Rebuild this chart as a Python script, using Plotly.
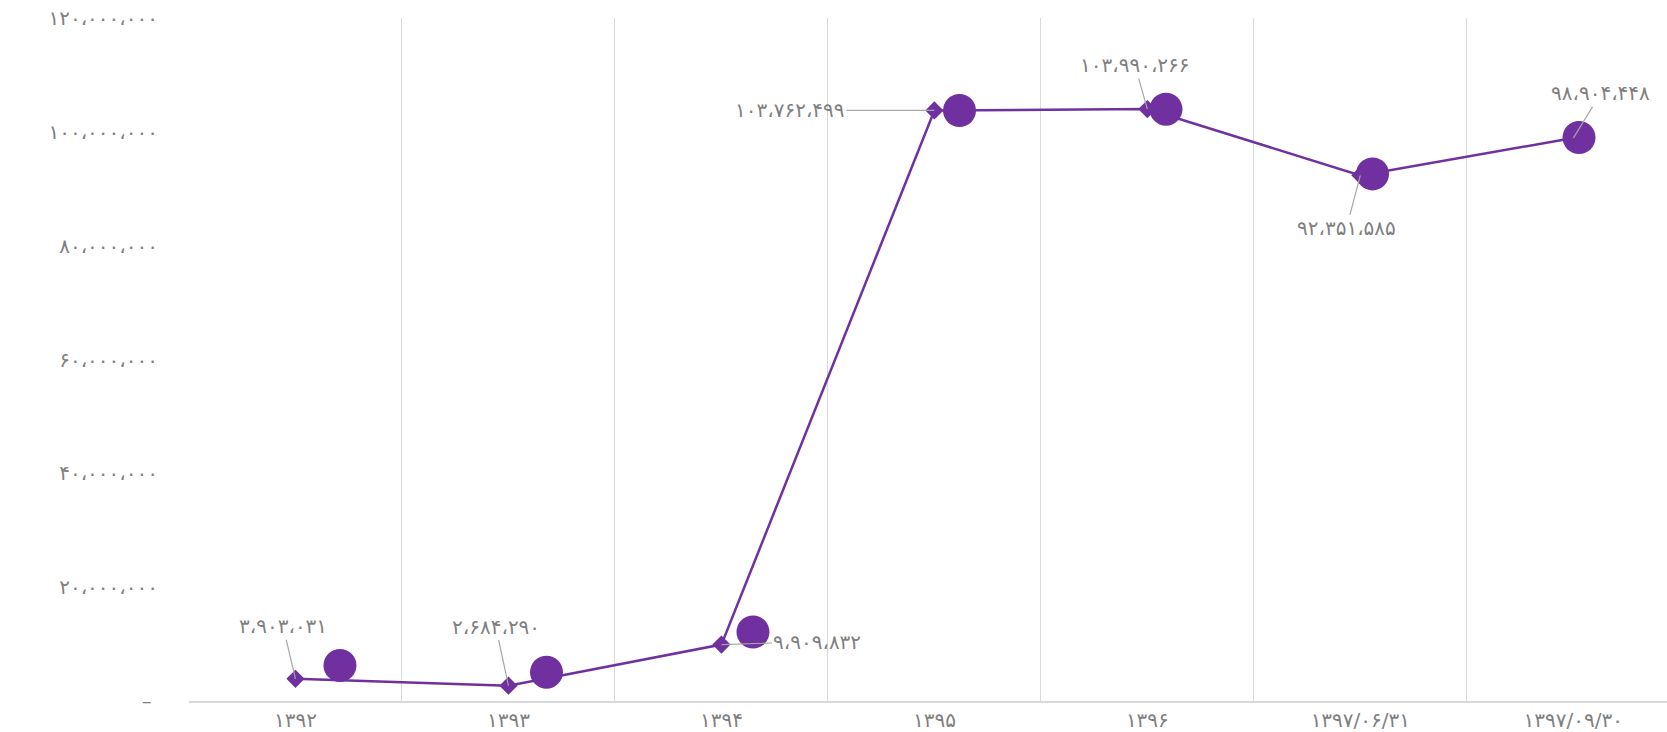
import plotly.graph_objects as go

categories = ["۱۳۹۲", "۱۳۹۳", "۱۳۹۴", "۱۳۹۵", "۱۳۹۶", "۱۳۹۷/۰۶/۳۱", "۱۳۹۷/۰۹/۳۰"]
values = [3903031, 2684290, 9909832, 103762499, 103990266, 92351585, 98904448]
y_ticks = [0, 20000000, 40000000, 60000000, 80000000, 100000000, 120000000]
# label offsets (pixels) relative to each point
label_dx = [-12.5, -12.7, 96, -144.5, -12.5, -14, 27.5]
label_dy = [-52.6, -59, -3, 0, -44, 53, -44.7]

FA = str.maketrans("0123456789", "۰۱۲۳۴۵۶۷۸۹")


def fa(n):
    if n == 0:
        return "–\u00a0"
    return f"{n:,}".replace(",", "،").translate(FA)


PURPLE = "#7030A0"
TXT = "#7f7f7f"
GRID = "#d9d9d9"
FONT = "DejaVu Sans"
FS = 20

fig = go.Figure()
fig.add_trace(go.Scatter(
    x=categories, y=values, mode="lines+markers",
    line=dict(color=PURPLE, width=2.5),
    marker=dict(symbol="diamond", size=14, color=PURPLE),
    xaxis="x", yaxis="y", showlegend=False, hoverinfo="skip",
))
fig.add_trace(go.Scatter(
    x=categories, y=values, mode="markers",
    marker=dict(symbol="circle", size=33, color=PURPLE),
    xaxis="x2", yaxis="y2", showlegend=False, hoverinfo="skip",
))

for c, v, dx, dy in zip(categories, values, label_dx, label_dy):
    fig.add_annotation(
        x=c, y=v, xref="x", yref="y", text=fa(v),
        showarrow=True, arrowhead=0, arrowwidth=1.2, arrowcolor="#a6a6a6",
        ax=dx, ay=dy, standoff=0,
        font=dict(family=FONT, size=FS, color=TXT),
    )

fig.update_layout(
    width=1667, height=732,
    margin=dict(l=189, r=0, t=18, b=31),
    paper_bgcolor="white", plot_bgcolor="white",
    font=dict(family=FONT, size=FS, color=TXT),
    xaxis=dict(
        type="category", categoryarray=categories, range=[-0.5, 6.44],
        tickson="boundaries", showgrid=True, gridcolor=GRID, gridwidth=1.3,
        showline=True, linecolor=GRID, linewidth=1.5, ticks="",
        tickfont=dict(family=FONT, size=FS, color=TXT),
    ),
    yaxis=dict(
        range=[0, 120000000], tickmode="array", tickvals=y_ticks,
        ticktext=[fa(v) for v in y_ticks], showgrid=False, zeroline=False,
        showline=False, ticks="", ticklabelstandoff=30,
        tickfont=dict(family=FONT, size=FS, color=TXT),
    ),
    xaxis2=dict(
        type="category", categoryarray=categories, overlaying="x",
        range=[-0.731, 6.426], visible=False,
    ),
    yaxis2=dict(
        overlaying="y", range=[-2500000, 120400000], visible=False,
    ),
)

fig.write_html("out.html", config={"displayModeBar": False},
               post_script="document.body.style.margin='0';")
